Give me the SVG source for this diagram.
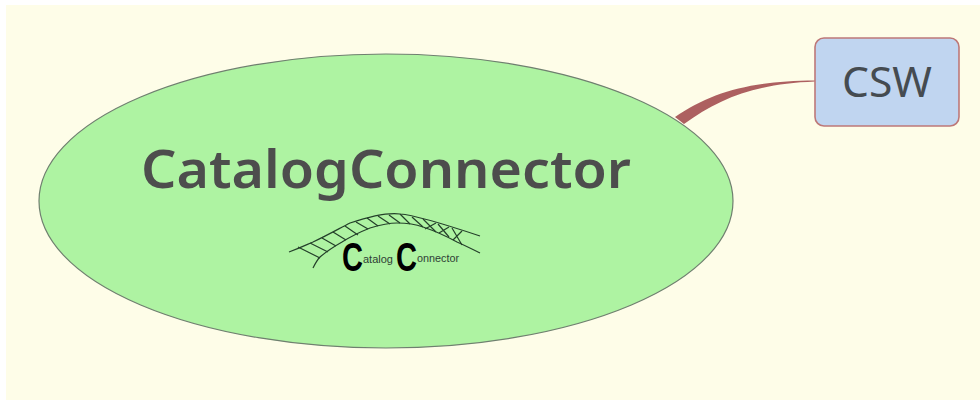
<svg xmlns="http://www.w3.org/2000/svg" width="980" height="400" viewBox="0 0 980 400">
<style>
.t{font-family:"Noto Sans","Open Sans",sans-serif;fill:#4d4d4d}
.b{fill:none;stroke:#24402a;stroke-width:1.2}
.lc{font-family:"Liberation Sans",sans-serif;fill:#000;font-size:41px;font-weight:bold}
.ls{font-family:"Liberation Sans",sans-serif;fill:#2f3f35;font-size:11px}
</style>
<rect width="980" height="400" fill="#fff"/>
<rect x="6" y="5" width="974" height="395" fill="#fefde8"/>
<g id="connectors">
<path d="M675 117C712 92 750 81 815 80.5L815 81.5C755 84 720 98 684 124Z" fill="#ad6060"/>
</g>
<g id="node-csw">
<rect x="815" y="38" width="144" height="88" rx="9" fill="#c0d5f0" stroke="#bd7878" stroke-width="1.6"/>
<text class="t" x="887" y="97" font-size="42" text-anchor="middle" textLength="90" lengthAdjust="spacingAndGlyphs" style="fill:#454b50">CSW</text>
</g>
<g id="node-catalogconnector">
<ellipse cx="386" cy="201" rx="347" ry="147" fill="#aef3a2" stroke="#6f7f6f" stroke-width="1.2"/>
<text class="t" x="141" y="188" font-size="52" font-weight="600" textLength="490" lengthAdjust="spacingAndGlyphs">CatalogConnector</text>
<g id="logo">
<path class="b" d="M289 252C300 248 306 245 313 242C330 234 340 228 350 223C365 218 385 212 400 214C415 215 450 226 480 236"/>
<path class="b" d="M313 268C316 262 317 260 320 257C327 251 335 246 342 242C350 237 360 232 370 228C380 225 388 223 397 223C406 223 415 224 423 227C435 231 446 236 457 242C466 246 472 249 480 253"/>
<path class="b" d="M298 247L320 258M310 243L328 252M322 238L336 246M333 232L346 240M345 226L358 235M356 222L368 229M367 218L378 226M378 216L390 224M389 215L400 223M400 214L410 224M412 217L423 227M423 219L436 232M436 223L425 229M438 224L449 237M449 227L439 233M452 228L462 245M462 231L453 240"/>
<text class="lc" transform="translate(342 271) scale(.71 1)">C</text>
<text class="ls" x="363" y="263" textLength="30" lengthAdjust="spacingAndGlyphs">atalog</text>
<text class="lc" transform="translate(396 271) scale(.71 1)">C</text>
<text class="ls" x="417" y="262" textLength="42" lengthAdjust="spacingAndGlyphs">onnector</text>
</g>
</g>
</svg>
